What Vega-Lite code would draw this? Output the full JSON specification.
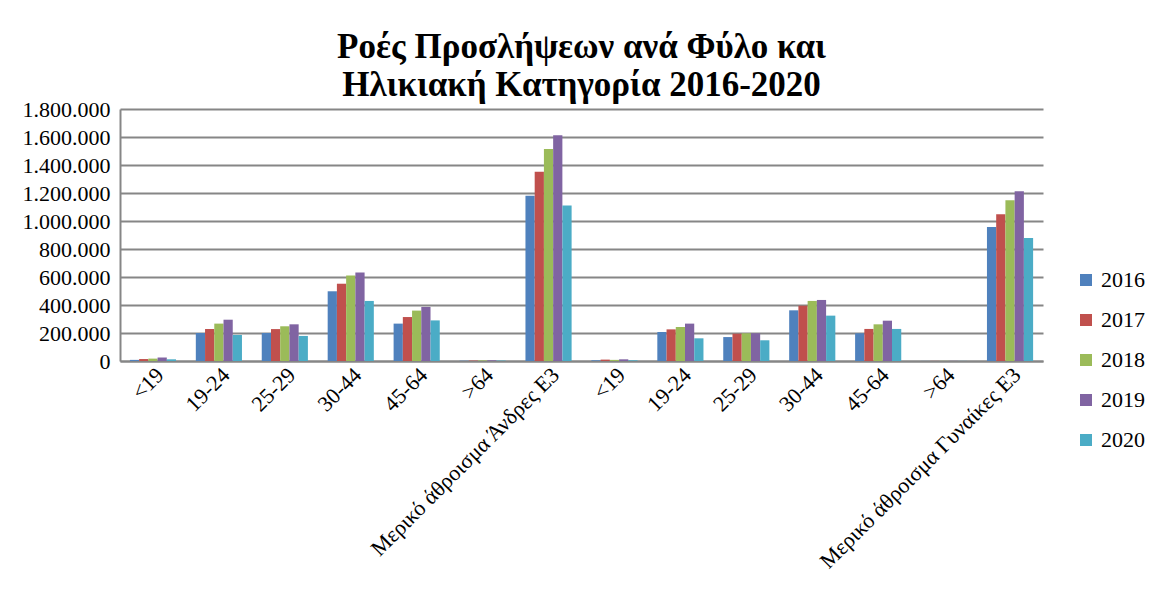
{
  "$schema": "https://vega.github.io/schema/vega-lite/v6.json",
  "autosize": {"type": "none"},
  "padding": {"left": 120, "top": 109, "right": 111, "bottom": 237},
  "width": 923,
  "height": 252,
  "background": "white",
  "title": {
    "text": ["Ροές Προσλήψεων ανά Φύλο και", "Ηλικιακή Κατηγορία 2016-2020"],
    "font": "Liberation Serif",
    "fontSize": 35,
    "fontWeight": "bold",
    "color": "black",
    "anchor": "middle",
    "frame": "group",
    "lineHeight": 38,
    "offset": -5
  },
  "data": {
    "values": [
      {"cat": "M|<19", "year": "2016", "value": 8000},
      {"cat": "M|<19", "year": "2017", "value": 14000},
      {"cat": "M|<19", "year": "2018", "value": 17000},
      {"cat": "M|<19", "year": "2019", "value": 25000},
      {"cat": "M|<19", "year": "2020", "value": 12000},
      {"cat": "M|19-24", "year": "2016", "value": 200000},
      {"cat": "M|19-24", "year": "2017", "value": 228000},
      {"cat": "M|19-24", "year": "2018", "value": 267000},
      {"cat": "M|19-24", "year": "2019", "value": 295000},
      {"cat": "M|19-24", "year": "2020", "value": 186000},
      {"cat": "M|25-29", "year": "2016", "value": 200000},
      {"cat": "M|25-29", "year": "2017", "value": 228000},
      {"cat": "M|25-29", "year": "2018", "value": 248000},
      {"cat": "M|25-29", "year": "2019", "value": 262000},
      {"cat": "M|25-29", "year": "2020", "value": 179000},
      {"cat": "M|30-44", "year": "2016", "value": 498000},
      {"cat": "M|30-44", "year": "2017", "value": 552000},
      {"cat": "M|30-44", "year": "2018", "value": 610000},
      {"cat": "M|30-44", "year": "2019", "value": 633000},
      {"cat": "M|30-44", "year": "2020", "value": 429000},
      {"cat": "M|45-64", "year": "2016", "value": 267000},
      {"cat": "M|45-64", "year": "2017", "value": 314000},
      {"cat": "M|45-64", "year": "2018", "value": 360000},
      {"cat": "M|45-64", "year": "2019", "value": 386000},
      {"cat": "M|45-64", "year": "2020", "value": 290000},
      {"cat": "M|>64", "year": "2016", "value": 2000},
      {"cat": "M|>64", "year": "2017", "value": 3000},
      {"cat": "M|>64", "year": "2018", "value": 4000},
      {"cat": "M|>64", "year": "2019", "value": 5000},
      {"cat": "M|>64", "year": "2020", "value": 3000},
      {"cat": "M|Μερικό άθροισμα Άνδρες Ε3", "year": "2016", "value": 1181000},
      {"cat": "M|Μερικό άθροισμα Άνδρες Ε3", "year": "2017", "value": 1352000},
      {"cat": "M|Μερικό άθροισμα Άνδρες Ε3", "year": "2018", "value": 1514000},
      {"cat": "M|Μερικό άθροισμα Άνδρες Ε3", "year": "2019", "value": 1612000},
      {"cat": "M|Μερικό άθροισμα Άνδρες Ε3", "year": "2020", "value": 1110000},
      {"cat": "F|<19", "year": "2016", "value": 5000},
      {"cat": "F|<19", "year": "2017", "value": 10000},
      {"cat": "F|<19", "year": "2018", "value": 8000},
      {"cat": "F|<19", "year": "2019", "value": 12000},
      {"cat": "F|<19", "year": "2020", "value": 5000},
      {"cat": "F|19-24", "year": "2016", "value": 207000},
      {"cat": "F|19-24", "year": "2017", "value": 226000},
      {"cat": "F|19-24", "year": "2018", "value": 243000},
      {"cat": "F|19-24", "year": "2019", "value": 267000},
      {"cat": "F|19-24", "year": "2020", "value": 162000},
      {"cat": "F|25-29", "year": "2016", "value": 171000},
      {"cat": "F|25-29", "year": "2017", "value": 195000},
      {"cat": "F|25-29", "year": "2018", "value": 198000},
      {"cat": "F|25-29", "year": "2019", "value": 198000},
      {"cat": "F|25-29", "year": "2020", "value": 148000},
      {"cat": "F|30-44", "year": "2016", "value": 362000},
      {"cat": "F|30-44", "year": "2017", "value": 395000},
      {"cat": "F|30-44", "year": "2018", "value": 429000},
      {"cat": "F|30-44", "year": "2019", "value": 436000},
      {"cat": "F|30-44", "year": "2020", "value": 324000},
      {"cat": "F|45-64", "year": "2016", "value": 198000},
      {"cat": "F|45-64", "year": "2017", "value": 229000},
      {"cat": "F|45-64", "year": "2018", "value": 262000},
      {"cat": "F|45-64", "year": "2019", "value": 288000},
      {"cat": "F|45-64", "year": "2020", "value": 229000},
      {"cat": "F|>64", "year": "2016", "value": 500},
      {"cat": "F|>64", "year": "2017", "value": 700},
      {"cat": "F|>64", "year": "2018", "value": 800},
      {"cat": "F|>64", "year": "2019", "value": 900},
      {"cat": "F|>64", "year": "2020", "value": 600},
      {"cat": "F|Μερικό άθροισμα Γυναίκες Ε3", "year": "2016", "value": 957000},
      {"cat": "F|Μερικό άθροισμα Γυναίκες Ε3", "year": "2017", "value": 1048000},
      {"cat": "F|Μερικό άθροισμα Γυναίκες Ε3", "year": "2018", "value": 1148000},
      {"cat": "F|Μερικό άθροισμα Γυναίκες Ε3", "year": "2019", "value": 1212000},
      {"cat": "F|Μερικό άθροισμα Γυναίκες Ε3", "year": "2020", "value": 879000}
    ]
  },
  "mark": {"type": "bar"},
  "encoding": {
    "x": {
      "field": "cat",
      "type": "nominal",
      "sort": null,
      "scale": {"paddingInner": 0.3, "paddingOuter": 0.15},
      "axis": {
        "title": null,
        "labelExpr": "split(datum.label, '|')[1]",
        "labelAngle": -45,
        "labelFont": "Liberation Serif",
        "labelFontSize": 22,
        "labelColor": "black",
        "labelPadding": 3,
        "labelLimit": 400,
        "ticks": false,
        "domainColor": "#868686",
        "domainWidth": 2
      }
    },
    "xOffset": {"field": "year", "type": "nominal"},
    "y": {
      "field": "value",
      "type": "quantitative",
      "scale": {"domain": [0, 1800000], "nice": false},
      "axis": {
        "title": null,
        "values": [0, 200000, 400000, 600000, 800000, 1000000, 1200000, 1400000, 1600000, 1800000],
        "labelExpr": "replace(format(datum.value, ','), regexp(',', 'g'), '.')",
        "labelFont": "Liberation Serif",
        "labelFontSize": 22,
        "labelColor": "black",
        "labelPadding": 10,
        "ticks": false,
        "grid": true,
        "gridColor": "#868686",
        "gridWidth": 2,
        "domainColor": "#868686",
        "domainWidth": 2
      }
    },
    "color": {
      "field": "year",
      "type": "nominal",
      "scale": {
        "domain": ["2016", "2017", "2018", "2019", "2020"],
        "range": ["#4F81BD", "#C0504D", "#9BBB59", "#8064A2", "#4BACC6"]
      },
      "legend": {
        "title": null,
        "orient": "none",
        "legendX": 955,
        "legendY": 160,
        "symbolType": "square",
        "symbolSize": 144,
        "symbolStrokeWidth": 0,
        "labelFont": "Liberation Serif",
        "labelFontSize": 22,
        "labelColor": "black",
        "rowPadding": 18,
        "labelOffset": 4
      }
    }
  },
  "config": {"view": {"stroke": null}}
}
